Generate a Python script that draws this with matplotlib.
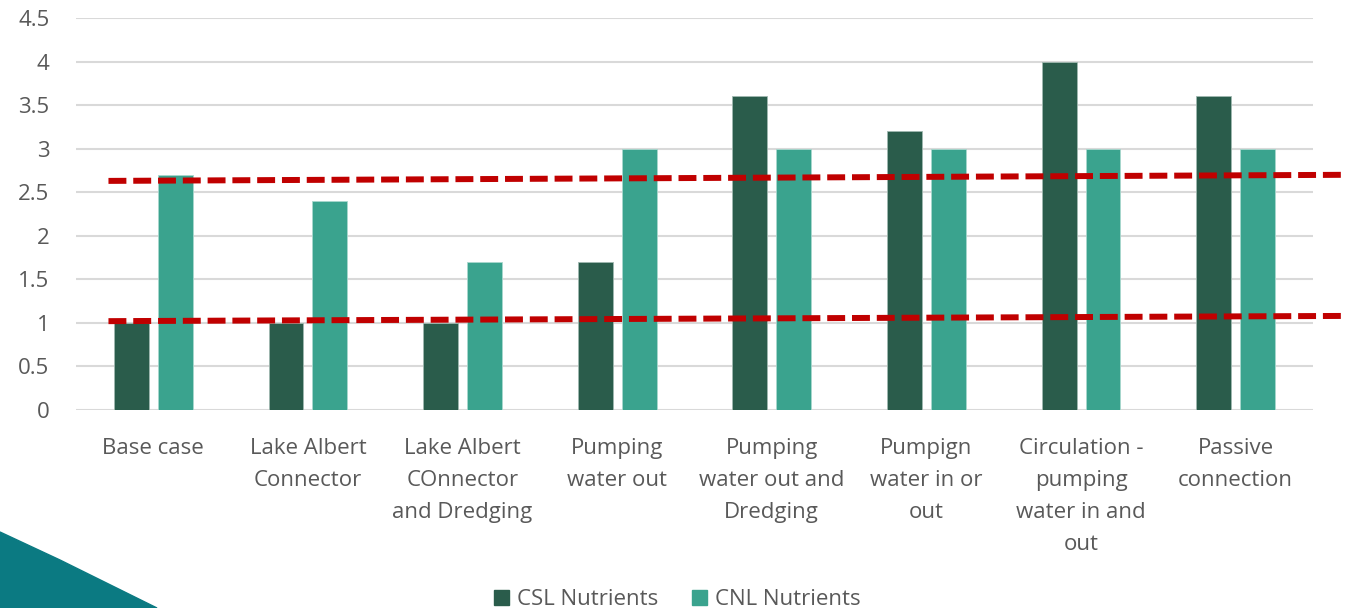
import matplotlib
matplotlib.use("Agg")
import matplotlib.pyplot as plt
import numpy as np
from matplotlib.patches import Polygon, Patch

# Scenario labels and nutrient scores
categories = [
    "Base case",
    "Lake Albert\nConnector",
    "Lake Albert\nCOnnector\nand Dredging",
    "Pumping\nwater out",
    "Pumping\nwater out and\nDredging",
    "Pumpign\nwater in or\nout",
    "Circulation -\npumping\nwater in and\nout",
    "Passive\nconnection",
]
csl_nutrients = [1, 1, 1, 1.7, 3.6, 3.2, 4, 3.6]
cnl_nutrients = [2.7, 2.4, 1.7, 3, 3, 3, 3, 3]
series_names = ["CSL Nutrients", "CNL Nutrients"]

# Hand-drawn reference lines (start value, end value)
upper_ref = [2.63, 2.70]
lower_ref = [1.02, 1.08]
ref_x = [-0.29, 7.71]

yticks = [0, 0.5, 1, 1.5, 2, 2.5, 3, 3.5, 4, 4.5]
ytick_labels = ["0", "0.5", "1", "1.5", "2", "2.5", "3", "3.5", "4", "4.5"]

DARK = "#2A5C4B"
TEAL = "#3AA38E"
TEXT = "#595959"
GRID = "#D9D9D9"
RED = "#C00000"

plt.rcParams["font.family"] = ["Open Sans", "DejaVu Sans"]

W, H = 1349, 608
fig = plt.figure(figsize=(W / 100, H / 100), dpi=100)
ax = fig.add_axes([76 / W, (H - 410) / H, (1313 - 76) / W, (410 - 18) / H])

x = np.arange(len(categories))
bw = 0.226
off = 0.142
ax.bar(x - off, csl_nutrients, bw, color=DARK, edgecolor="#9FB8B0", linewidth=0.6, zorder=2)
ax.bar(x + off, cnl_nutrients, bw, color=TEAL, edgecolor="#A8D8CE", linewidth=0.6, zorder=2)

for ref in (upper_ref, lower_ref):
    ax.plot(ref_x, ref, color=RED, lw=4.3, dashes=(3, 1.15),
            solid_capstyle="butt", dash_capstyle="butt", clip_on=False, zorder=4)

ax.set_xlim(-0.5, len(categories) - 0.5)
ax.set_ylim(0, 4.5)
ax.set_yticks(yticks)
ax.set_yticklabels(ytick_labels)
ax.set_xticks(x)
ax.set_xticklabels(categories, linespacing=1.67, va="top")
ax.tick_params(axis="y", length=0, pad=19, labelsize=16, labelcolor=TEXT)
ax.tick_params(axis="x", length=0, pad=20.5, labelsize=16, labelcolor=TEXT)
ax.yaxis.grid(True, color=GRID, lw=1.5, zorder=0)
ax.set_axisbelow(True)
for s in ax.spines.values():
    s.set_visible(False)

handles = [Patch(color=DARK), Patch(color=TEAL)]
fig.legend(handles, series_names, loc="lower center", bbox_to_anchor=(0.502, -0.037),
           ncol=2, frameon=False, fontsize=16, labelcolor=TEXT,
           handlelength=0.7, handleheight=0.7, handletextpad=0.35, columnspacing=1.5)

# Decorative teal wedge in the lower-left corner
wedge = Polygon([[0, 0], [0, (H - 532) / H], [60 / W, (H - 560) / H], [157 / W, 0]],
                closed=True, transform=fig.transFigure, color="#0B7A82", zorder=0)
fig.patches.append(wedge)

fig.savefig("out.png", dpi=100)
